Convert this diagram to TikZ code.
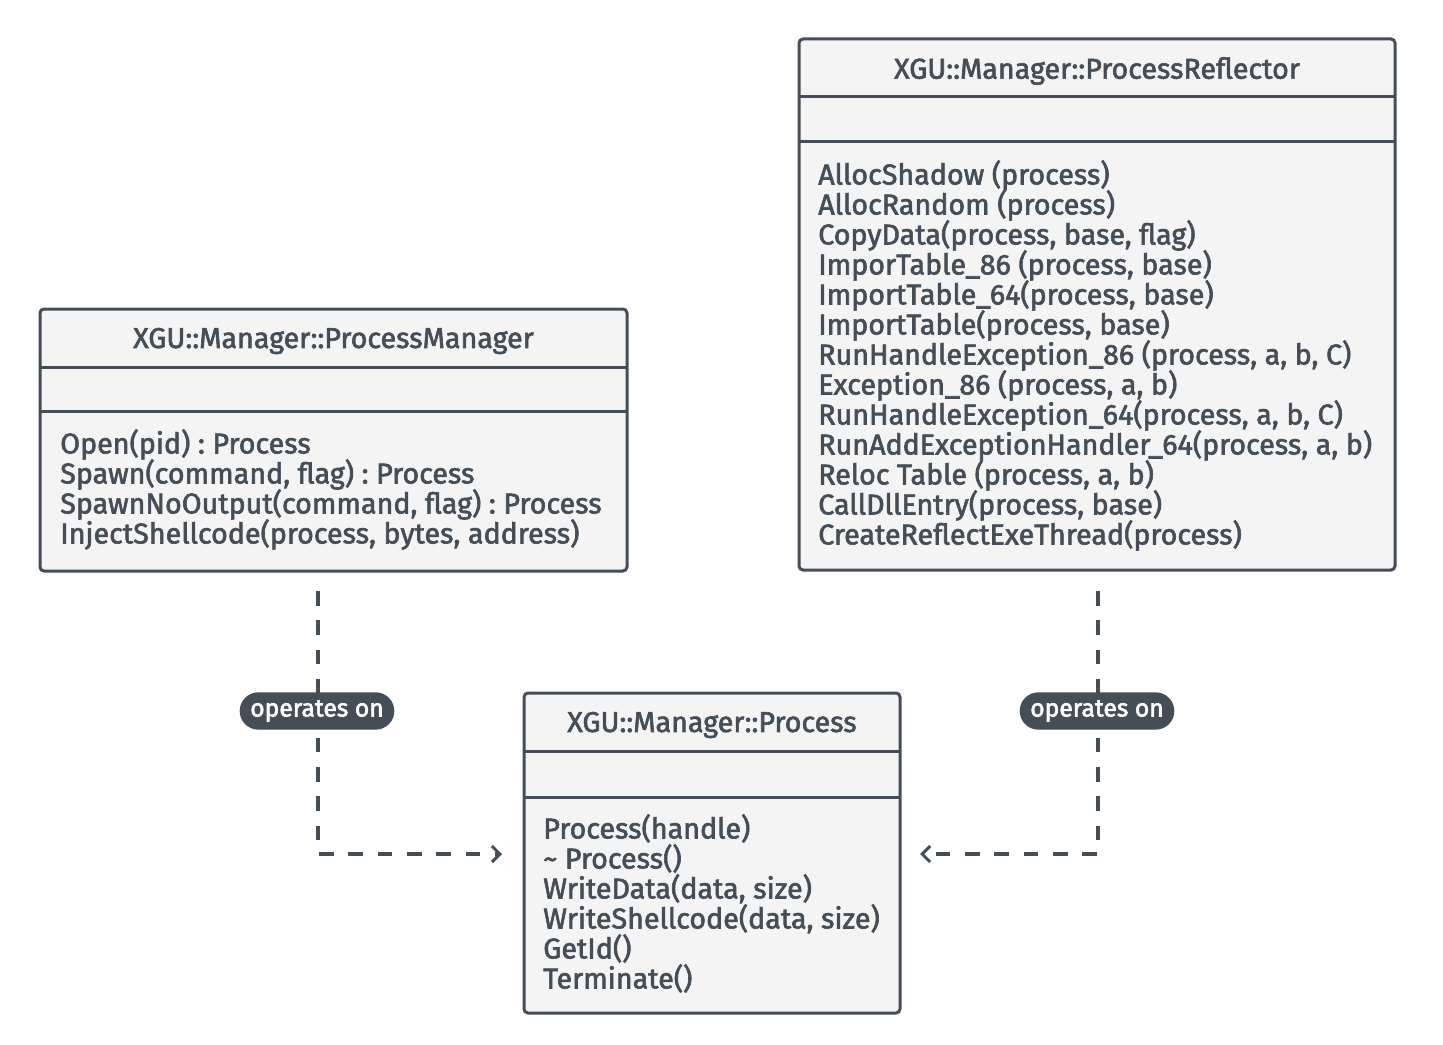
\documentclass[tikz,border=0pt]{standalone}
\usepackage{fontspec}
\setmainfont{Fira Sans}
\usetikzlibrary{fit,arrows.meta,shapes.misc}
\definecolor{ink}{HTML}{454E57}
\definecolor{boxfill}{HTML}{F4F4F4}
\tikzset{
  heavytext/.style={execute at begin node={\special{pdf:literal direct 2 Tr 0.45 w}}, execute at end node={\special{pdf:literal direct 0 Tr}}},
  classbox/.style={draw=ink, fill=boxfill, line width=2.25pt, rounded corners=3pt, inner sep=0pt},
  divider/.style={draw=ink, line width=2.25pt},
  titletext/.style={heavytext, text=ink, font=\fontsize{21.5}{24}\selectfont\frenchspacing, inner sep=0pt},
  methodtext/.style={heavytext, text=ink, font=\fontsize{21.5}{24}\selectfont\frenchspacing, inner sep=0pt, anchor=west, text height=0.72em, text depth=0.2em},
  conn/.style={draw=ink, line width=2.4pt, dash pattern=on 11pt off 11pt, -{Straight Barb[length=6pt,width=12pt,line width=2.25pt]}},
  pill/.style={heavytext, fill=ink, text=white, rounded rectangle, minimum width=116pt, minimum height=28pt, inner sep=0pt, font=\fontsize{18.5}{21}\selectfont},
}
\begin{document}
\begin{tikzpicture}[x=0.75pt,y=-0.75pt]
\useasboundingbox (0,0) rectangle (1443,1045);
% ProcessManager
\node[classbox, fit={(40,309)(627,571)}] (pm) {};
\draw[divider] (40,367) -- (627,367);
\draw[divider] (40,411) -- (627,411);
\node[titletext] (pmt) at (333.5,341) {XGU::Manager::ProcessManager};
\foreach \t [count=\i] in {{Open(pid) : Process},{Spawn(command, flag) : Process},{SpawnNoOutput(command, flag) : Process},{InjectShellcode(process, bytes, address)}}
  \node[methodtext] (pmm\i) at (60,420+30*\i) {\t};
% ProcessReflector
\node[classbox, fit={(799,39)(1395,570)}] (pr) {};
\draw[divider] (799,97) -- (1395,97);
\draw[divider] (799,142) -- (1395,142);
\node[titletext] (prt) at (1097,71) {XGU::Manager::ProcessReflector};
\foreach \t [count=\i] in {{AllocShadow (process)},{AllocRandom (process)},{CopyData(process, base, flag)},{ImporTable\_86 (process, base)},{ImportTable\_64(process, base)},{ImportTable(process, base)},{RunHandleException\_86 (process, a, b, C)},{Exception\_86 (process, a, b)},{RunHandleException\_64(process, a, b, C)},{RunAddExceptionHandler\_64(process, a, b)},{Reloc Table (process, a, b)},{CallDllEntry(process, base)},{CreateReflectExeThread(process)}}
  \node[methodtext] (prm\i) at (818,151+30*\i) {\t};
% Process
\node[classbox, fit={(524,693)(900,1013)}] (p) {};
\draw[divider] (524,751) -- (900,751);
\draw[divider] (524,797) -- (900,797);
\node[titletext] (pt) at (712,725) {XGU::Manager::Process};
\foreach \t [count=\i] in {{Process(handle)},{\textasciitilde\ Process()},{WriteData(data, size)},{WriteShellcode(data, size)},{GetId()},{Terminate()}}
  \node[methodtext] (pm\i) at (543,805+30*\i) {\t};
% connectors
\coordinate (s1) at (318,591);
\coordinate (e1) at (502,854);
\coordinate (s2) at (1098,591);
\coordinate (e2) at (920,854);
\draw[conn] (s1) |- (e1);
\draw[conn] (s2) |- (e2);
\node[pill] (l1) at (317,711) {operates on};
\node[pill] (l2) at (1097,711) {operates on};
\end{tikzpicture}
\end{document}
